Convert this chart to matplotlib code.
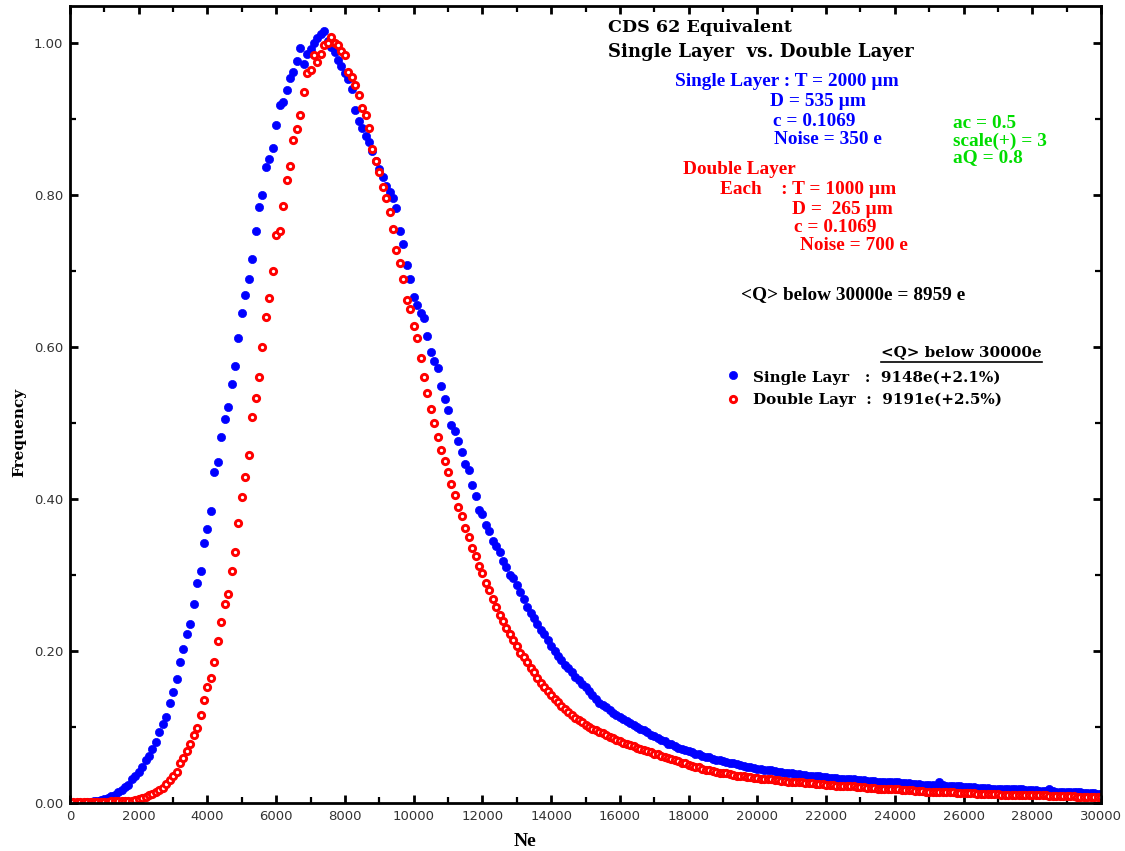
import matplotlib
matplotlib.use("Agg")
import matplotlib.pyplot as plt
from matplotlib.lines import Line2D
from matplotlib.ticker import MultipleLocator, FormatStrFormatter

# ---------------- data ----------------
NE = list(range(0, 30001, 100))

single_layer = [
    0.000, 0.000, 0.000, 0.000, 0.000, 0.001, 0.001, 0.002, 0.003, 0.004,
    0.005, 0.007, 0.009, 0.011, 0.014, 0.017, 0.021, 0.024, 0.031, 0.036,
    0.041, 0.048, 0.056, 0.062, 0.071, 0.080, 0.093, 0.104, 0.113, 0.132,
    0.146, 0.163, 0.186, 0.202, 0.222, 0.236, 0.262, 0.289, 0.305, 0.342,
    0.360, 0.384, 0.436, 0.449, 0.482, 0.505, 0.521, 0.551, 0.575, 0.612,
    0.645, 0.668, 0.690, 0.716, 0.752, 0.784, 0.800, 0.837, 0.848, 0.862,
    0.892, 0.918, 0.922, 0.938, 0.954, 0.962, 0.976, 0.993, 0.972, 0.985,
    0.992, 1.000, 1.006, 1.012, 1.016, 1.003, 0.995, 0.988, 0.978, 0.970,
    0.960, 0.952, 0.940, 0.912, 0.898, 0.888, 0.877, 0.870, 0.858, 0.845,
    0.834, 0.824, 0.812, 0.804, 0.796, 0.783, 0.752, 0.736, 0.708, 0.690,
    0.666, 0.655, 0.645, 0.638, 0.614, 0.594, 0.582, 0.572, 0.549, 0.532,
    0.517, 0.498, 0.490, 0.476, 0.462, 0.446, 0.438, 0.418, 0.404, 0.385,
    0.380, 0.366, 0.358, 0.345, 0.338, 0.330, 0.318, 0.310, 0.300, 0.296,
    0.287, 0.277, 0.268, 0.258, 0.250, 0.244, 0.236, 0.228, 0.222, 0.214,
    0.206, 0.200, 0.194, 0.188, 0.182, 0.177, 0.172, 0.166, 0.162, 0.157,
    0.152, 0.148, 0.142, 0.137, 0.132, 0.129, 0.126, 0.122, 0.119, 0.116,
    0.113, 0.111, 0.108, 0.105, 0.103, 0.100, 0.098, 0.096, 0.093, 0.090,
    0.088, 0.086, 0.083, 0.081, 0.078, 0.077, 0.075, 0.073, 0.071, 0.070,
    0.068, 0.067, 0.065, 0.064, 0.062, 0.061, 0.060, 0.058, 0.057, 0.056,
    0.055, 0.054, 0.053, 0.052, 0.051, 0.050, 0.049, 0.048, 0.047, 0.046,
    0.045, 0.045, 0.044, 0.043, 0.043, 0.042, 0.041, 0.041, 0.040, 0.040,
    0.039, 0.038, 0.038, 0.037, 0.037, 0.036, 0.036, 0.035, 0.035, 0.034,
    0.034, 0.033, 0.033, 0.033, 0.032, 0.032, 0.031, 0.031, 0.031, 0.030,
    0.030, 0.030, 0.029, 0.029, 0.029, 0.028, 0.028, 0.028, 0.027, 0.027,
    0.027, 0.027, 0.026, 0.026, 0.026, 0.025, 0.025, 0.025, 0.024, 0.024,
    0.024, 0.024, 0.023, 0.027, 0.024, 0.023, 0.023, 0.022, 0.022, 0.022,
    0.021, 0.021, 0.021, 0.021, 0.020, 0.020, 0.020, 0.020, 0.019, 0.019,
    0.019, 0.019, 0.019, 0.018, 0.018, 0.018, 0.018, 0.018, 0.017, 0.017,
    0.017, 0.017, 0.016, 0.016, 0.016, 0.018, 0.016, 0.015, 0.015, 0.015,
    0.015, 0.014, 0.014, 0.014, 0.014, 0.013, 0.013, 0.013, 0.013, 0.012,
    0.012,
]

double_layer = [
    0.000, 0.001, 0.001, 0.001, 0.001, 0.001, 0.001, 0.001, 0.001, 0.001,
    0.001, 0.001, 0.002, 0.002, 0.002, 0.002, 0.002, 0.003, 0.003, 0.004,
    0.005, 0.006, 0.008, 0.010, 0.012, 0.014, 0.017, 0.020, 0.025, 0.030,
    0.036, 0.041, 0.052, 0.059, 0.068, 0.078, 0.090, 0.099, 0.116, 0.135,
    0.152, 0.165, 0.185, 0.213, 0.238, 0.262, 0.275, 0.305, 0.330, 0.368,
    0.402, 0.429, 0.458, 0.508, 0.533, 0.560, 0.600, 0.640, 0.665, 0.700,
    0.748, 0.752, 0.786, 0.820, 0.838, 0.872, 0.887, 0.905, 0.935, 0.960,
    0.965, 0.984, 0.975, 0.985, 0.998, 1.000, 1.008, 1.000, 0.998, 0.990,
    0.984, 0.962, 0.955, 0.945, 0.932, 0.915, 0.905, 0.888, 0.860, 0.845,
    0.830, 0.810, 0.796, 0.778, 0.755, 0.728, 0.710, 0.690, 0.662, 0.650,
    0.628, 0.612, 0.585, 0.560, 0.540, 0.518, 0.500, 0.482, 0.465, 0.450,
    0.435, 0.420, 0.405, 0.390, 0.378, 0.362, 0.350, 0.335, 0.325, 0.312,
    0.302, 0.290, 0.280, 0.268, 0.258, 0.248, 0.240, 0.230, 0.222, 0.214,
    0.206, 0.198, 0.192, 0.185, 0.178, 0.172, 0.164, 0.158, 0.152, 0.147,
    0.142, 0.137, 0.133, 0.128, 0.124, 0.120, 0.116, 0.112, 0.109, 0.106,
    0.103, 0.100, 0.098, 0.096, 0.094, 0.092, 0.089, 0.087, 0.085, 0.083,
    0.081, 0.079, 0.077, 0.076, 0.075, 0.073, 0.071, 0.070, 0.068, 0.067,
    0.065, 0.064, 0.062, 0.061, 0.059, 0.058, 0.056, 0.055, 0.053, 0.052,
    0.050, 0.049, 0.048, 0.047, 0.045, 0.044, 0.043, 0.042, 0.041, 0.040,
    0.040, 0.039, 0.038, 0.037, 0.036, 0.036, 0.035, 0.034, 0.034, 0.033,
    0.033, 0.032, 0.032, 0.031, 0.031, 0.030, 0.030, 0.029, 0.029, 0.028,
    0.028, 0.028, 0.027, 0.027, 0.026, 0.026, 0.026, 0.025, 0.025, 0.025,
    0.024, 0.024, 0.024, 0.023, 0.023, 0.023, 0.022, 0.022, 0.022, 0.021,
    0.021, 0.021, 0.020, 0.020, 0.020, 0.019, 0.019, 0.019, 0.019, 0.018,
    0.018, 0.018, 0.017, 0.017, 0.017, 0.017, 0.016, 0.016, 0.016, 0.015,
    0.015, 0.015, 0.015, 0.015, 0.014, 0.014, 0.014, 0.014, 0.013, 0.013,
    0.013, 0.013, 0.013, 0.013, 0.012, 0.012, 0.012, 0.012, 0.012, 0.012,
    0.012, 0.011, 0.011, 0.011, 0.011, 0.011, 0.011, 0.010, 0.010, 0.010,
    0.010, 0.010, 0.010, 0.010, 0.010, 0.009, 0.009, 0.009, 0.009, 0.009,
    0.009, 0.009, 0.009, 0.008, 0.008, 0.008, 0.008, 0.008, 0.008, 0.008,
    0.008,
]

legend_labels = ["Single Layr   :  9148e(+2.1%)", "Double Layr  :  9191e(+2.5%)"]

# ---------------- figure ----------------
W, H = 1125, 851
fig = plt.figure(figsize=(W / 100, H / 100), dpi=100)
ax = fig.add_axes([70 / W, 1 - 803 / H, (1101 - 70) / W, (803 - 6) / H])

blue = "#0000ff"
red = "#ff0000"
green = "#00dd00"

BLUE_MS, RED_MS, RED_MEW = 5.9, 4.5, 2.1

ax.plot(NE, single_layer, linestyle="none", marker="o", ms=BLUE_MS,
        mfc=blue, mec=blue, mew=0.5, label=legend_labels[0])
ax.plot(NE, double_layer, linestyle="none", marker="o", ms=RED_MS,
        mfc="white", mec=red, mew=RED_MEW, label=legend_labels[1])

ax.set_xlim(0, 30000)
ax.set_ylim(0, 797 / 760)
ax.xaxis.set_major_locator(MultipleLocator(2000))
ax.xaxis.set_minor_locator(MultipleLocator(1000))
ax.yaxis.set_major_locator(MultipleLocator(0.2))
ax.yaxis.set_minor_locator(MultipleLocator(0.1))
ax.yaxis.set_major_formatter(FormatStrFormatter("%.2f"))
ax.tick_params(which="both", direction="in", top=True, right=True,
               labelsize=9.5, colors="black", labelcolor="#333333")
ax.tick_params(which="major", length=6, width=2)
ax.tick_params(which="minor", length=4, width=1.6)
ax.tick_params(axis="x", pad=5)
ax.tick_params(axis="y", pad=5)
for s in ax.spines.values():
    s.set_linewidth(2.0)

serif_wide = ["DejaVu Serif"]
serif_times = ["Liberation Serif"]


def ftext(px, py, s, color="black", fam=serif_times, size=13.9, **kw):
    fig.text(px / W, 1 - py / H, s, color=color, family=fam,
             fontweight="bold", fontsize=size, ha="left", va="center", **kw)


# axis labels
fig.text(525 / W, 1 - 842 / H, "Ne", family=serif_times, fontweight="bold",
         fontsize=14, ha="center", va="center")
fig.text(19 / W, 1 - 432 / H, "Frequency", family=serif_wide, fontweight="bold",
         fontsize=11, ha="center", va="center", rotation=90)

# title block
ftext(608, 28, "CDS 62 Equivalent", fam=serif_wide, size=12.6)
ftext(608, 52, "Single Layer  vs. Double Layer", fam=serif_wide, size=13.0)

# single layer parameters
ftext(675, 82, "Single Layer : T = 2000 µm", blue)
ftext(770, 101, "D = 535 µm", blue)
ftext(773, 121, "c = 0.1069", blue)
ftext(774, 140, "Noise = 350 e", blue)

# green parameters
ftext(953, 123, "ac = 0.5", green)
ftext(953, 141, "scale(+) = 3", green)
ftext(953, 158, "aQ = 0.8", green)

# double layer parameters
ftext(683, 170, "Double Layer", red)
ftext(720, 189, "Each    : T = 1000 µm", red)
ftext(792, 210, "D =  265 µm", red)
ftext(794, 228, "c = 0.1069", red)
ftext(800, 246, "Noise = 700 e", red)

ftext(741, 295, "<Q> below 30000e = 8959 e")

# manual legend
ftext(881, 352, "<Q> below 30000e", fam=serif_wide, size=10.9)
fig.add_artist(Line2D([881 / W, 1042 / W], [1 - 362 / H, 1 - 362 / H],
                      transform=fig.transFigure, color="black", lw=1.2))
fig.add_artist(Line2D([733 / W], [1 - 375 / H], transform=fig.transFigure,
                      linestyle="none", marker="o", ms=BLUE_MS, mfc=blue,
                      mec=blue, mew=0.5))
fig.add_artist(Line2D([733 / W], [1 - 399 / H], transform=fig.transFigure,
                      linestyle="none", marker="o", ms=RED_MS, mfc="white",
                      mec=red, mew=RED_MEW))
ftext(753, 378, legend_labels[0], fam=serif_wide, size=10.9)
ftext(753, 400, legend_labels[1], fam=serif_wide, size=10.9)

fig.savefig("out.png", dpi=100)
